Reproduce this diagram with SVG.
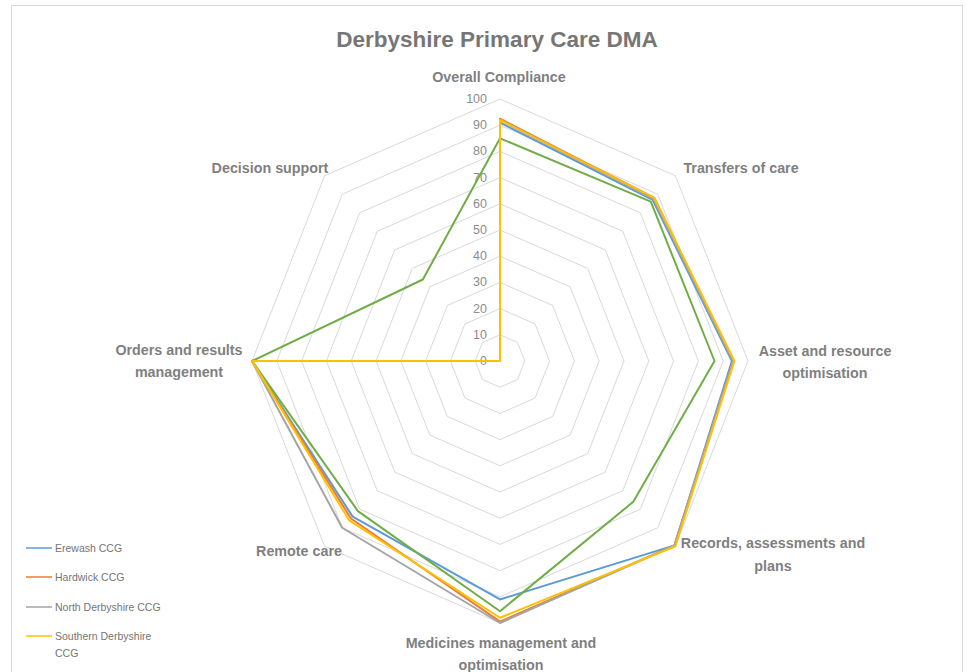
<svg xmlns="http://www.w3.org/2000/svg" width="967" height="672" viewBox="0 0 967 672">
<style>
.grid{fill:none;stroke:#d9d9d9;stroke-width:1;vector-effect:non-scaling-stroke}
.s{fill:none;stroke-width:2;stroke-linejoin:round;vector-effect:non-scaling-stroke}
.tick{font-family:"Liberation Sans",Arial,sans-serif;font-size:12.5px;fill:#8c8c8c;text-anchor:end}
.cat{font-family:"Liberation Sans",Arial,sans-serif;font-size:14.3px;font-weight:bold;fill:#7f7f7f;text-anchor:middle}
.leg{font-family:"Liberation Sans",Arial,sans-serif;font-size:10.5px;fill:#757575}
.title{font-family:"Liberation Sans",Arial,sans-serif;font-size:22.5px;font-weight:bold;fill:#767676;text-anchor:middle}
</style>
<rect x="0" y="0" width="967" height="672" fill="#ffffff"/>
<rect x="11.5" y="5.5" width="951" height="700" fill="none" stroke="#d9d9d9"/>
<text class="title" x="497" y="47">Derbyshire Primary Care DMA</text>
<g id="grid" transform="translate(500,361) scale(2.48,2.62)">
<polygon class="grid" points="0,-10 7.071,-7.071 10,0 7.071,7.071 0,10 -7.071,7.071 -10,0 -7.071,-7.071"/>
<polygon class="grid" points="0,-20 14.142,-14.142 20,0 14.142,14.142 0,20 -14.142,14.142 -20,0 -14.142,-14.142"/>
<polygon class="grid" points="0,-30 21.213,-21.213 30,0 21.213,21.213 0,30 -21.213,21.213 -30,0 -21.213,-21.213"/>
<polygon class="grid" points="0,-40 28.284,-28.284 40,0 28.284,28.284 0,40 -28.284,28.284 -40,0 -28.284,-28.284"/>
<polygon class="grid" points="0,-50 35.355,-35.355 50,0 35.355,35.355 0,50 -35.355,35.355 -50,0 -35.355,-35.355"/>
<polygon class="grid" points="0,-60 42.426,-42.426 60,0 42.426,42.426 0,60 -42.426,42.426 -60,0 -42.426,-42.426"/>
<polygon class="grid" points="0,-70 49.497,-49.497 70,0 49.497,49.497 0,70 -49.497,49.497 -70,0 -49.497,-49.497"/>
<polygon class="grid" points="0,-80 56.569,-56.569 80,0 56.569,56.569 0,80 -56.569,56.569 -80,0 -56.569,-56.569"/>
<polygon class="grid" points="0,-90 63.640,-63.640 90,0 63.640,63.640 0,90 -63.640,63.640 -90,0 -63.640,-63.640"/>
<polygon class="grid" points="0,-100 70.711,-70.711 100,0 70.711,70.711 0,100 -70.711,70.711 -100,0 -70.711,-70.711"/>
</g>
<g id="axis-labels">
<text class="tick" x="487" y="365">0</text>
<text class="tick" x="487" y="339">10</text>
<text class="tick" x="487" y="313">20</text>
<text class="tick" x="487" y="286">30</text>
<text class="tick" x="487" y="260">40</text>
<text class="tick" x="487" y="234">50</text>
<text class="tick" x="487" y="208">60</text>
<text class="tick" x="487" y="182">70</text>
<text class="tick" x="487" y="155">80</text>
<text class="tick" x="487" y="129">90</text>
<text class="tick" x="487" y="103">100</text>
</g>
<g id="series" transform="translate(500,361) scale(2.48,2.62)">
<polygon id="erewash" class="s" stroke="#5b9bd5" points="0,-91 61.52,-61.52 93.5,0 70.36,70.36 0,91 -59.40,59.40 -100,0 0,0"/>
<polygon id="hardwick" class="s" stroke="#ed7d31" points="0,-92.5 62.23,-62.23 94,0 70.36,70.36 0,99.5 -60.10,60.10 -100,0 0,0"/>
<polygon id="north" class="s" stroke="#a5a5a5" points="0,-92 61.87,-61.87 94,0 70.36,70.36 0,100 -63.64,63.64 -100,0 0,0"/>
<polygon id="green" class="s" stroke="#70ad47" points="0,-85 60.81,-60.81 86.5,0 53.74,53.74 0,95.5 -57.28,57.28 -100,0 -31.11,-31.11"/>
<polygon id="southern" class="s" stroke="#ffc000" points="0,-92 62.23,-62.23 94.5,0 70.71,70.71 0,98 -60.81,60.81 -100,0 0,0"/>
</g>
<g id="categories">
<text class="cat" x="499" y="82">Overall Compliance</text>
<text class="cat" x="741" y="173">Transfers of care</text>
<text class="cat" x="825" y="356">Asset and resource</text>
<text class="cat" x="825" y="378">optimisation</text>
<text class="cat" x="773" y="548">Records, assessments and</text>
<text class="cat" x="773" y="571">plans</text>
<text class="cat" x="501" y="648">Medicines management and</text>
<text class="cat" x="501" y="670">optimisation</text>
<text class="cat" x="299" y="556">Remote care</text>
<text class="cat" x="179" y="355">Orders and results</text>
<text class="cat" x="179" y="377">management</text>
<text class="cat" x="270" y="173">Decision support</text>
</g>
<g id="legend">
<line x1="26" y1="548" x2="52" y2="548" stroke="#5b9bd5" stroke-width="1.5"/>
<text class="leg" x="55" y="552">Erewash CCG</text>
<line x1="26" y1="577" x2="52" y2="577" stroke="#ed7d31" stroke-width="1.5"/>
<text class="leg" x="55" y="581">Hardwick CCG</text>
<line x1="26" y1="607" x2="52" y2="607" stroke="#a5a5a5" stroke-width="1.5"/>
<text class="leg" x="55" y="611">North Derbyshire CCG</text>
<line x1="26" y1="636" x2="52" y2="636" stroke="#ffc000" stroke-width="1.5"/>
<text class="leg" x="55" y="640">Southern Derbyshire</text>
<text class="leg" x="55" y="657">CCG</text>
</g>
</svg>
